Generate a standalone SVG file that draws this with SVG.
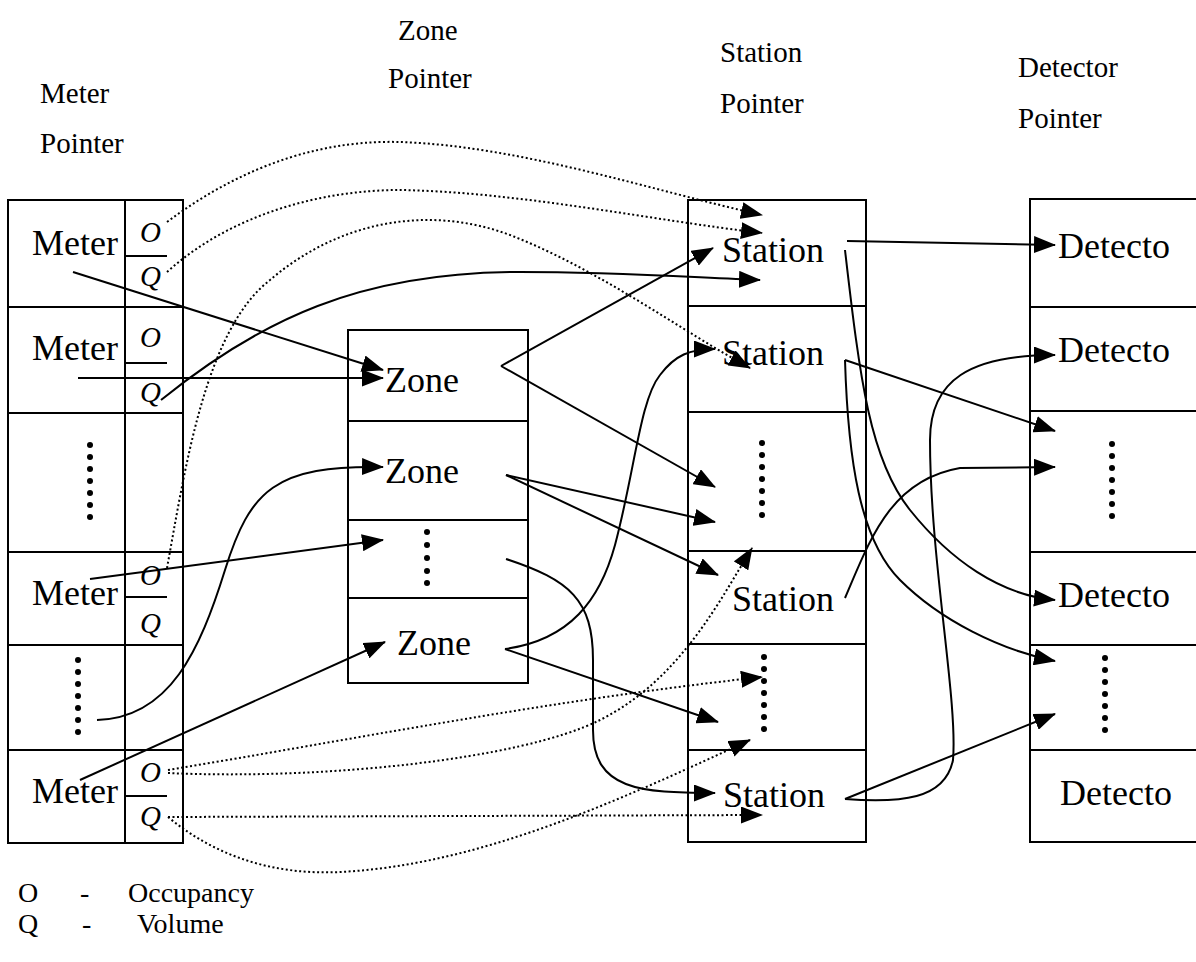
<svg xmlns="http://www.w3.org/2000/svg" width="1196" height="962" viewBox="0 0 1196 962">
<style>
text{font-family:"Liberation Serif","Times New Roman",serif;fill:#000}
.box{fill:#fff;stroke:#000;stroke-width:2}
.ln{stroke:#000;stroke-width:2;fill:none}
.big{font-size:36px}
.hdr{font-size:29px}
.frac{font-size:29px;font-style:italic}
.leg{font-size:28px}
.s{stroke:#000;stroke-width:2;fill:none;marker-end:url(#ah)}
.d{stroke:#000;stroke-width:2;fill:none;stroke-dasharray:2 2.5;marker-end:url(#ah)}
</style>
<defs>
<marker id="ah" markerWidth="22" markerHeight="17" refX="21" refY="8.5" orient="auto" markerUnits="userSpaceOnUse"><path d="M0,0 L22,8.5 L0,17 z" fill="#000"/></marker>
<g id="dots7"><circle cx="0" cy="0" r="3"/><circle cx="0" cy="12" r="3"/><circle cx="0" cy="24" r="3"/><circle cx="0" cy="36" r="3"/><circle cx="0" cy="48" r="3"/><circle cx="0" cy="60" r="3"/><circle cx="0" cy="72" r="3"/></g>
</defs>
<rect width="1196" height="962" fill="#fff"/>

<g id="headers">
<text class="hdr" x="40" y="103">Meter</text>
<text class="hdr" x="40" y="153">Pointer</text>
<text class="hdr" x="398" y="40">Zone</text>
<text class="hdr" x="388" y="88">Pointer</text>
<text class="hdr" x="720" y="62">Station</text>
<text class="hdr" x="720" y="113">Pointer</text>
<text class="hdr" x="1018" y="77">Detector</text>
<text class="hdr" x="1018" y="128">Pointer</text>
</g>

<g id="meter-column">
<rect class="box" x="8" y="200" width="175" height="643"/>
<line class="ln" x1="125" y1="200" x2="125" y2="843"/>
<g id="meter-1"><line class="ln" x1="8" y1="307" x2="183" y2="307"/><text class="big" x="32" y="255">Meter</text><text class="frac" x="140" y="242">O</text><line class="ln" x1="125" y1="256" x2="167" y2="256"/><text class="frac" x="140" y="286">Q</text></g>
<g id="meter-2"><line class="ln" x1="8" y1="413" x2="183" y2="413"/><text class="big" x="32" y="360">Meter</text><text class="frac" x="140" y="347">O</text><line class="ln" x1="125" y1="363" x2="167" y2="363"/><text class="frac" x="140" y="402">Q</text></g>
<g id="meter-3"><line class="ln" x1="8" y1="552" x2="183" y2="552"/><use href="#dots7" x="90" y="445"/></g>
<g id="meter-4"><line class="ln" x1="8" y1="645" x2="183" y2="645"/><text class="big" x="32" y="605">Meter</text><text class="frac" x="140" y="585">O</text><line class="ln" x1="125" y1="597" x2="167" y2="597"/><text class="frac" x="140" y="633">Q</text></g>
<g id="meter-5"><line class="ln" x1="8" y1="750" x2="183" y2="750"/><use href="#dots7" x="78" y="660"/></g>
<g id="meter-6"><text class="big" x="32" y="803">Meter</text><text class="frac" x="140" y="782">O</text><line class="ln" x1="125" y1="796" x2="167" y2="796"/><text class="frac" x="140" y="826">Q</text></g>
</g>

<g id="zone-column">
<rect class="box" x="348" y="330" width="180" height="353"/>
<g id="zone-1"><line class="ln" x1="348" y1="421" x2="528" y2="421"/><text class="big" x="385" y="392">Zone</text></g>
<g id="zone-2"><line class="ln" x1="348" y1="520" x2="528" y2="520"/><text class="big" x="385" y="483">Zone</text></g>
<g id="zone-3"><line class="ln" x1="348" y1="598" x2="528" y2="598"/><circle cx="427" cy="532" r="3"/><circle cx="427" cy="545" r="3"/><circle cx="427" cy="558" r="3"/><circle cx="427" cy="571" r="3"/><circle cx="427" cy="583" r="3"/></g>
<g id="zone-4"><text class="big" x="397" y="655">Zone</text></g>
</g>

<g id="station-column">
<rect class="box" x="688" y="200" width="178" height="642"/>
<g id="station-1"><line class="ln" x1="688" y1="306" x2="866" y2="306"/><text class="big" x="722" y="262">Station</text></g>
<g id="station-2"><line class="ln" x1="688" y1="412" x2="866" y2="412"/><text class="big" x="722" y="365">Station</text></g>
<g id="station-3"><line class="ln" x1="688" y1="551" x2="866" y2="551"/><use href="#dots7" x="762" y="443"/></g>
<g id="station-4"><line class="ln" x1="688" y1="644" x2="866" y2="644"/><text class="big" x="732" y="611">Station</text></g>
<g id="station-5"><line class="ln" x1="688" y1="750" x2="866" y2="750"/><use href="#dots7" x="764" y="657"/></g>
<g id="station-6"><text class="big" x="723" y="807">Station</text></g>
</g>

<g id="detector-column">
<rect class="box" x="1030" y="199" width="180" height="643"/>
<g id="detector-1"><line class="ln" x1="1030" y1="307" x2="1196" y2="307"/><text class="big" x="1058" y="258">Detecto</text></g>
<g id="detector-2"><line class="ln" x1="1030" y1="411" x2="1196" y2="411"/><text class="big" x="1058" y="362">Detecto</text></g>
<g id="detector-3"><line class="ln" x1="1030" y1="552" x2="1196" y2="552"/><use href="#dots7" x="1112" y="444"/></g>
<g id="detector-4"><line class="ln" x1="1030" y1="645" x2="1196" y2="645"/><text class="big" x="1058" y="607">Detecto</text></g>
<g id="detector-5"><line class="ln" x1="1030" y1="750" x2="1196" y2="750"/><use href="#dots7" x="1105" y="658"/></g>
<g id="detector-6"><text class="big" x="1060" y="805">Detecto</text></g>
</g>

<g id="connectors">
<path class="s" d="M73,272 L383,370"/>
<path class="s" d="M78,378 L383,378"/>
<path class="s" d="M161,400 C260,320 360,272 520,272 C620,272 700,278 760,280"/>
<path class="s" d="M97,720 C170,718 200,650 225,570 C250,490 275,465 383,467"/>
<path class="s" d="M90,579 L383,540"/>
<path class="s" d="M80,780 L385,642"/>
<path class="s" d="M501,366 L713,248"/>
<path class="s" d="M501,366 L715,487"/>
<path class="s" d="M506,475 L715,522"/>
<path class="s" d="M506,475 L718,575"/>
<path class="s" d="M506,559 C570,580 593,600 593,660 L593,730 C593,790 640,793 715,793"/>
<path class="s" d="M505,649 C570,640 600,600 615,545 C635,470 640,400 660,375 C675,355 690,349 715,349"/>
<path class="s" d="M505,649 L718,722"/>
<path class="s" d="M847,241 L1055,245"/>
<path class="s" d="M845,250 C860,380 870,460 910,510 C950,560 1000,595 1055,600"/>
<path class="s" d="M845,360 L1055,431"/>
<path class="s" d="M845,360 C848,460 860,540 900,580 C940,620 1000,650 1055,661"/>
<path class="s" d="M845,598 C870,540 890,480 960,468 L1055,467"/>
<path class="s" d="M845,799 L1055,714"/>
<path class="s" d="M845,799 C900,803 945,800 953,760 C958,700 930,560 930,440 C930,380 970,355 1055,355"/>
<path class="d" d="M167,222 C250,160 330,140 400,142 C520,146 650,190 762,215"/>
<path class="d" d="M167,272 C230,215 320,190 400,190 C520,192 650,220 762,233"/>
<path class="d" d="M167,568 C185,470 205,330 270,280 C340,220 430,205 510,235 C600,270 680,330 750,368"/>
<path class="d" d="M168,770 C350,740 550,700 762,677"/>
<path class="d" d="M168,773 C320,780 520,760 600,720 C680,680 720,600 752,548"/>
<path class="d" d="M168,817 L762,815"/>
<path class="d" d="M168,817 C220,860 280,875 340,872 C480,865 620,800 750,740"/>
</g>

<g id="legend">
<text class="leg" x="18" y="902">O</text>
<text class="leg" x="80" y="902">-</text>
<text class="leg" x="128" y="902">Occupancy</text>
<text class="leg" x="18" y="933">Q</text>
<text class="leg" x="82" y="933">-</text>
<text class="leg" x="137" y="933">Volume</text>
</g>
</svg>
